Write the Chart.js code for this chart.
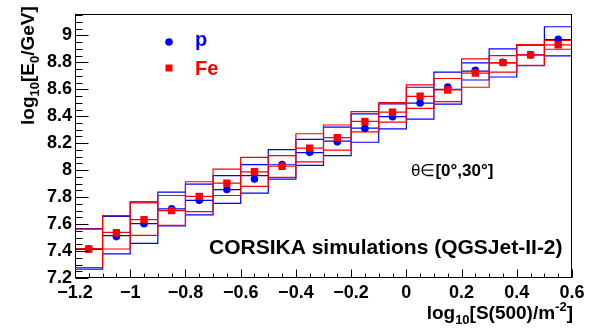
<!DOCTYPE html>
<html><head><meta charset="utf-8">
<script src="https://cdn.jsdelivr.net/npm/chart.js@4.4.0/dist/chart.umd.min.js"></script>
<style>html,body{margin:0;padding:0;background:#fff;}#wrap{width:597px;height:331px;}</style>
</head><body><div id="wrap"><canvas id="c" width="597" height="331"></canvas></div>
<script>
// ---- data ----
const binCenters = [-1.15,-1.05,-0.95,-0.85,-0.75,-0.65,-0.55,-0.45,-0.35,-0.25,-0.15,-0.05,0.05,0.15,0.25,0.35,0.45,0.55];
const binWidth = 0.1;

const pMean   = [7.415,7.507,7.603,7.714,7.776,7.856,7.935,8.042,8.132,8.210,8.310,8.397,8.498,8.616,8.740,8.800,8.855,8.970];
const pMedian = [7.412,7.514,7.603,7.713,7.776,7.856,7.960,8.040,8.130,8.215,8.312,8.397,8.498,8.600,8.735,8.795,8.855,8.968];
const pHigh   = [7.567,7.657,7.765,7.837,7.897,7.960,8.041,8.152,8.229,8.320,8.417,8.492,8.615,8.728,8.796,8.900,8.928,9.064];
const pLow    = [7.266,7.379,7.457,7.587,7.668,7.754,7.830,7.933,8.036,8.108,8.207,8.307,8.378,8.490,8.669,8.691,8.775,8.848];

const feMean   = [7.415,7.536,7.633,7.700,7.806,7.904,7.988,8.029,8.163,8.241,8.362,8.430,8.548,8.595,8.720,8.798,8.855,8.929];
const feMedian = [7.418,7.538,7.633,7.700,7.806,7.904,7.988,8.029,8.164,8.241,8.362,8.430,8.548,8.595,8.720,8.798,8.855,8.929];
const feHigh   = [7.562,7.663,7.757,7.812,7.914,8.007,8.095,8.108,8.270,8.335,8.435,8.501,8.632,8.680,8.826,8.850,8.932,8.962];
const feLow    = [7.278,7.415,7.516,7.591,7.692,7.812,7.880,7.947,8.061,8.149,8.284,8.357,8.458,8.508,8.615,8.727,8.778,8.897];

const xTickValues = [-1.2,-1,-0.8,-0.6,-0.4,-0.2,0,0.2,0.4,0.6];
const xTickLabels = ["\u22121.2","\u22121","\u22120.8","\u22120.6","\u22120.4","\u22120.2","0","0.2","0.4","0.6"];
const yTickValues = [7.2,7.4,7.6,7.8,8,8.2,8.4,8.6,8.8,9];
const yTickLabels = ["7.2","7.4","7.6","7.8","8","8.2","8.4","8.6","8.8","9"];
const seriesNames = ["p","Fe"];

// ---- helpers ----
const FONT = "'Liberation Sans', Arial, Helvetica, sans-serif";
const BLUE = '#0000ff', RED = '#ff0000';
function boxPath(lo, hi){
  const pts=[];
  binCenters.forEach((x,i)=>{
    const l=x-binWidth/2, r=x+binWidth/2;
    pts.push({x:l,y:lo[i]},{x:l,y:hi[i]},{x:r,y:hi[i]},{x:r,y:lo[i]},{x:l,y:lo[i]},{x:l,y:null});
  });
  return pts;
}
function midPath(m){
  const pts=[];
  binCenters.forEach((x,i)=>{
    pts.push({x:x-binWidth/2,y:m[i]},{x:x+binWidth/2,y:m[i]},{x:x+binWidth/2,y:null});
  });
  return pts;
}
function pts(m){ return binCenters.map((x,i)=>({x:x,y:m[i]})); }
const lineDs = (data,color,order)=>({type:'line',data,borderColor:color,borderWidth:1.2,pointRadius:0,fill:false,spanGaps:false,tension:0,order});

const decor = {
  id:'decor',
  afterDraw(chart){
    const ctx=chart.ctx, ca=chart.chartArea, xs=chart.scales.x, ys=chart.scales.y;
    ctx.save();
    ctx.strokeStyle='#000'; ctx.lineWidth=1;
    const L=Math.round(ca.left)+0.5, R=Math.round(ca.right)-0.5, T=Math.round(ca.top)+0.5, B=Math.round(ca.bottom)-0.5;
    ctx.strokeRect(L,T,R-L,B-T);
    ctx.beginPath();
    for(let k=0;k<=36;k++){
      const v=-1.2+k*0.05; const px=Math.round(xs.getPixelForValue(v))+0.5;
      const len=(k%4===0)?8:4;
      ctx.moveTo(px,B); ctx.lineTo(px,B-len);
    }
    for(let k=0;k<=39;k++){
      const v=7.2+k*0.05; if(v>ys.max) break; const py=Math.round(ys.getPixelForValue(v))+0.5;
      const len=(k%4===0)?13:7;
      ctx.moveTo(L,py); ctx.lineTo(L+len,py);
    }
    ctx.stroke();

    function seq(parts, x, y){
      let cx=x;
      parts.forEach(p=>{ ctx.font=p.f; ctx.fillText(p.t,cx,y+(p.dy||0)); cx+=ctx.measureText(p.t).width; });
      return cx;
    }
    function width(parts){ let w=0; parts.forEach(p=>{ctx.font=p.f; w+=ctx.measureText(p.t).width;}); return w; }
    const B19='bold 19px '+FONT, B13='bold 13px '+FONT;
    ctx.fillStyle='#000'; ctx.textBaseline='alphabetic'; ctx.textAlign='left';
    // x title
    const xt=[{t:'log',f:B19},{t:'10',f:B13,dy:5},{t:'[S(500)/m',f:B19},{t:'-2',f:B13,dy:-8},{t:']',f:B19}];
    seq(xt, 573-width(xt), 319);
    // y title
    ctx.save(); ctx.translate(34,125); ctx.rotate(-Math.PI/2);
    const yt=[{t:'log',f:B19},{t:'10',f:B13,dy:5},{t:'[E',f:B19},{t:'0',f:B13,dy:5},{t:'/GeV]',f:B19}];
    seq(yt,0,0);
    ctx.restore();
    // legend
    ctx.fillStyle=BLUE; ctx.beginPath(); ctx.arc(169,42,3.8,0,Math.PI*2); ctx.fill();
    ctx.font='bold 20px '+FONT; ctx.fillText(seriesNames[0],195,46);
    ctx.fillStyle=RED; ctx.fillRect(165.5,64.5,7,7);
    ctx.fillText(seriesNames[1],195,75);
    // annotations
    ctx.fillStyle='#000';
    seq([{t:'\u03b8\u2208',f:'17px '+FONT},{t:'[0\u00b0,30\u00b0]',f:'bold 17px '+FONT}],411,176);
    ctx.font='bold 21px '+FONT; ctx.fillText('CORSIKA simulations (QGSJet-II-2)',209,254);
    ctx.restore();
  }
};

new Chart(document.getElementById('c'),{
  type:'scatter',
  data:{datasets:[
    {label:seriesNames[1],data:pts(feMean),pointStyle:'rect',pointRadius:5.2,backgroundColor:RED,borderColor:RED,borderWidth:0,showLine:false,order:0},
    {label:seriesNames[0],data:pts(pMean),pointStyle:'circle',pointRadius:3.8,backgroundColor:BLUE,borderColor:BLUE,borderWidth:0,showLine:false,order:1},
    lineDs(midPath(feMedian),RED,2),
    lineDs(boxPath(feLow,feHigh),RED,3),
    lineDs(midPath(pMedian),BLUE,4),
    lineDs(boxPath(pLow,pHigh),BLUE,5)
  ]},
  options:{
    responsive:false, animation:false, devicePixelRatio:1,
    layout:{padding:{top:6,right:25,left:0,bottom:0}},
    plugins:{legend:{display:false},tooltip:{enabled:false}},
    scales:{
      x:{type:'linear',min:-1.2,max:0.6,offset:false,
        afterBuildTicks:s=>{s.ticks=xTickValues.map(v=>({value:v}));},
        afterFit:s=>{s.height=53;},
        ticks:{callback:(v,i)=>xTickLabels[i],font:{family:FONT,size:18,weight:'bold'},color:'#000',padding:4,maxRotation:0,autoSkip:false},
        grid:{display:false,drawTicks:false},border:{display:false}},
      y:{type:'linear',min:7.2,max:9.16,
        afterBuildTicks:s=>{s.ticks=yTickValues.map(v=>({value:v}));},
        afterFit:s=>{s.width=75;},
        ticks:{callback:(v,i)=>yTickLabels[i],font:{family:FONT,size:18,weight:'bold'},color:'#000',padding:3,autoSkip:false},
        grid:{display:false,drawTicks:false},border:{display:false}}
    }
  },
  plugins:[decor]
});
</script></body></html>
